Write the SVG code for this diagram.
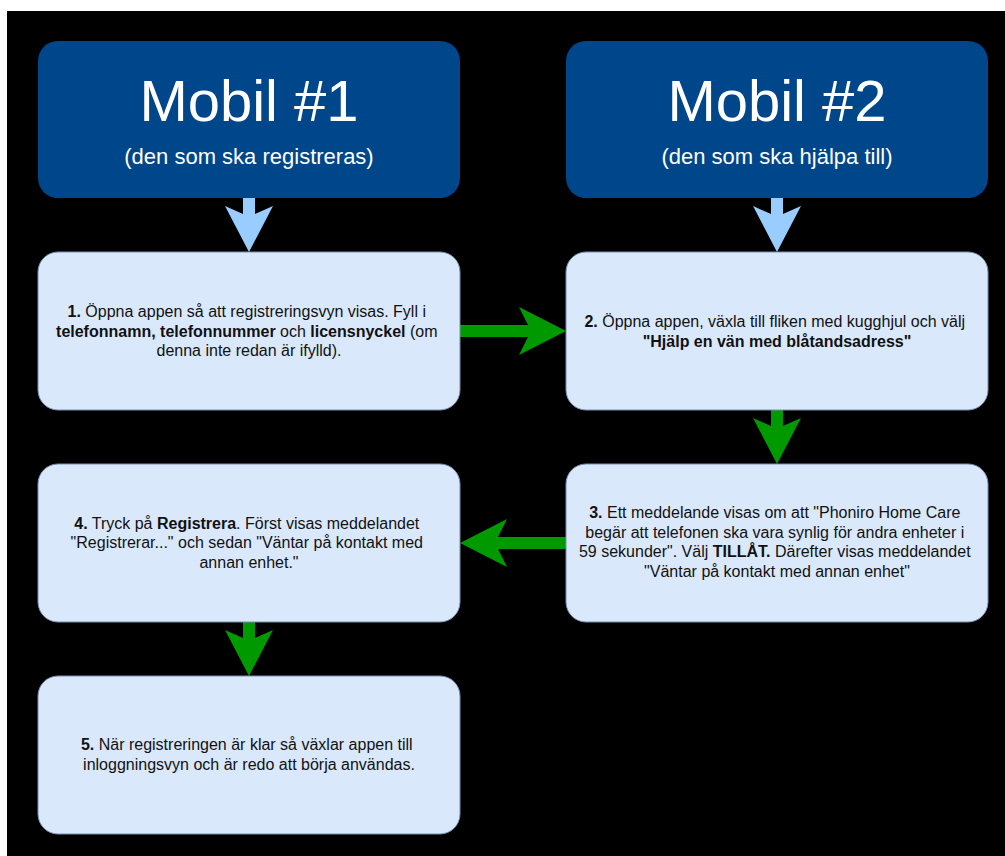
<svg xmlns="http://www.w3.org/2000/svg" xmlns:xlink="http://www.w3.org/1999/xlink" width="1005" height="856" viewBox="0 0 1005 856">
  <style>
    .head { fill: #00468A; }
    .step { fill: #DAE8FC; stroke: #7A8FAE; stroke-width: 1; }
    .title { font-family: "Liberation Sans", Arial, sans-serif; font-size: 58px; fill: #FFFFFF; text-anchor: middle; }
    .sub { font-family: "Liberation Sans", Arial, sans-serif; font-size: 22px; fill: #FFFFFF; text-anchor: middle; }
    .body { font-family: "Liberation Sans", Arial, sans-serif; font-size: 16px; fill: #111111; text-anchor: middle; }
    .body tspan.b { font-weight: bold; }
    .blue { fill: #99CCFF; }
    .green { fill: #009900; }
  </style>
  <defs>
    <!-- block arrow pointing down, tip at the origin -->
    <path id="downArrow" d="M-6,-54 H6 V-38 L24,-46 L0,0 L-24,-46 L-6,-38 Z"/>
  </defs>

  <rect x="0" y="0" width="1005" height="856" fill="#FFFFFF"/>
  <rect x="7" y="11" width="998" height="845" fill="#000000"/>

  <g id="connectors">
    <use xlink:href="#downArrow" class="blue" transform="translate(249,252)"/>
    <use xlink:href="#downArrow" class="blue" transform="translate(777,252)"/>
    <polygon class="green" points="460,325 528,325 519,307 566,331 519,355 528,337 460,337"/>
    <use xlink:href="#downArrow" class="green" transform="translate(777,464)"/>
    <polygon class="green" points="566,537 498,537 507,519 460,543 507,567 498,549 566,549"/>
    <use xlink:href="#downArrow" class="green" transform="translate(249,676)"/>
  </g>

  <g id="mobil1">
    <rect class="head" x="38" y="41" width="422" height="157" rx="20"/>
    <text class="title" x="249" y="121">Mobil #1</text>
    <text class="sub" x="249" y="164">(den som ska registreras)</text>
  </g>

  <g id="mobil2">
    <rect class="head" x="566" y="41" width="422" height="157" rx="20"/>
    <text class="title" x="777" y="121">Mobil #2</text>
    <text class="sub" x="777" y="164">(den som ska hjälpa till)</text>
  </g>

  <g id="step1">
    <rect class="step" x="38" y="252" width="422" height="158" rx="20"/>
    <text class="body" x="249" y="317">
      <tspan class="b">1.</tspan> Öppna appen så att registreringsvyn visas. Fyll i
      <tspan x="249" dy="19.5"><tspan class="b">telefonnamn, telefonnummer</tspan> och <tspan class="b">licensnyckel</tspan> (om</tspan>
      <tspan x="249" dy="19.5">denna inte redan är ifylld).</tspan>
    </text>
  </g>

  <g id="step2">
    <rect class="step" x="566" y="252" width="422" height="158" rx="20"/>
    <text class="body" x="777" y="327">
      <tspan class="b">2.</tspan> Öppna appen, växla till fliken med kugghjul och välj
      <tspan x="777" dy="19.5" class="b">"Hjälp en vän med blåtandsadress"</tspan>
    </text>
  </g>

  <g id="step3">
    <rect class="step" x="566" y="464" width="422" height="158" rx="20"/>
    <text class="body" x="777" y="518">
      <tspan class="b">3.</tspan> Ett meddelande visas om att "Phoniro Home Care
      <tspan x="777" dy="19.5">begär att telefonen ska vara synlig för andra enheter i</tspan>
      <tspan x="777" dy="19.5">59 sekunder". Välj <tspan class="b">TILLÅT.</tspan> Därefter visas meddelandet</tspan>
      <tspan x="777" dy="19.5">"Väntar på kontakt med annan enhet"</tspan>
    </text>
  </g>

  <g id="step4">
    <rect class="step" x="38" y="464" width="422" height="158" rx="20"/>
    <text class="body" x="249" y="528.5">
      <tspan class="b">4.</tspan> Tryck på <tspan class="b">Registrera</tspan>. Först visas meddelandet
      <tspan x="249" dy="19.5">"Registrerar..." och sedan "Väntar på kontakt med</tspan>
      <tspan x="249" dy="19.5">annan enhet."</tspan>
    </text>
  </g>

  <g id="step5">
    <rect class="step" x="38" y="676" width="422" height="158" rx="20"/>
    <text class="body" x="249" y="750">
      <tspan class="b">5.</tspan> När registreringen är klar så växlar appen till
      <tspan x="249" dy="19.5">inloggningsvyn och är redo att börja användas.</tspan>
    </text>
  </g>
</svg>
